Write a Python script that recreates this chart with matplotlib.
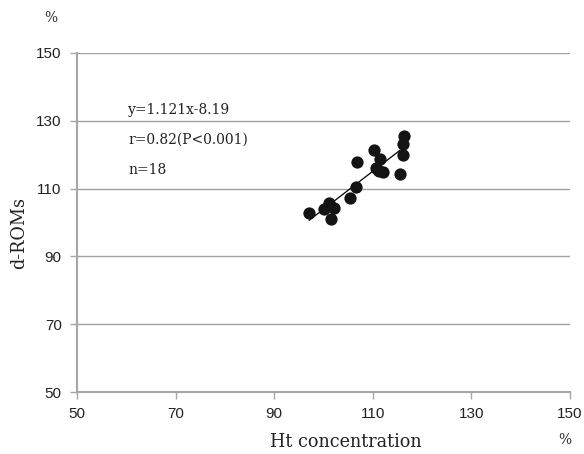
import matplotlib
matplotlib.use("Agg")
import matplotlib.pyplot as plt
import numpy as np

ht = [97.1, 100.0, 101.2, 102.1, 101.5, 105.4, 106.6, 106.7, 110.3, 111.5,
      110.6, 111.3, 112.0, 111.0, 115.5, 116.2, 116.1, 116.3]
droms = [102.7, 104.0, 105.8, 104.4, 101.0, 107.3, 110.6, 117.8, 121.4, 118.7,
         116.0, 115.3, 115.0, 115.6, 114.3, 119.9, 123.2, 125.6]
slope, intercept = 1.121, -8.19
xticks = [50, 70, 90, 110, 130, 150]
yticks = [50, 70, 90, 110, 130, 150]

fig = plt.figure(figsize=(5.84, 4.54), dpi=100)
ax = fig.add_axes([77/584, 62/454, 493/584, 339/454])
ax.set_xlim(50, 150)
ax.set_ylim(50, 150)
ax.set_xticks(xticks)
ax.set_yticks(yticks)
tick_font = dict(family="Liberation Sans", size=11, color="#222222")
ax.set_xticklabels([str(t) for t in xticks], **tick_font)
ax.set_yticklabels([str(t) for t in yticks], **tick_font)
for s in ["top", "right"]:
    ax.spines[s].set_visible(False)
for s in ["left", "bottom"]:
    ax.spines[s].set_color("#a6a6a6")
    ax.spines[s].set_linewidth(1.5)
ax.tick_params(axis="both", direction="out", length=5, width=1, color="#a6a6a6", pad=6)
ax.grid(axis="y", color="#a0a0a0", linewidth=1)
ax.set_axisbelow(True)

xl = np.array([min(ht), max(ht) - 0.8])
ax.plot(xl, slope * xl + intercept, color="black", linewidth=0.9, zorder=3)
ax.scatter(ht, droms, s=78, color="#141414", zorder=4, linewidths=0)

serif = "DejaVu Serif"
tx = (128 - 77) / 493
ax.text(tx, (392 - 110) / 339, "y=1.121x-8.19", transform=ax.transAxes, family=serif, size=10, va="center", color="#222222")
ax.text(tx, (392 - 140) / 339, "r=0.82(P<0.001)", transform=ax.transAxes, family=serif, size=10, va="center", color="#222222")
ax.text(tx, (392 - 170) / 339, "n=18", transform=ax.transAxes, family=serif, size=10, va="center", color="#222222")

fig.text(346/584, 1 - 442/454, "Ht concentration", family=serif, size=12.7, ha="center", va="center", color="#222222")
fig.text(19/584, 1 - 233/454, "d-ROMs", family=serif, size=12.7, ha="center", va="center", rotation=90, color="#222222")
fig.text(51/584, 1 - 18/454, "%", family=serif, size=10, ha="center", va="center", color="#333333")
fig.text(565/584, 1 - 440/454, "%", family=serif, size=10, ha="center", va="center", color="#333333")

fig.savefig("out.png", dpi=100)
